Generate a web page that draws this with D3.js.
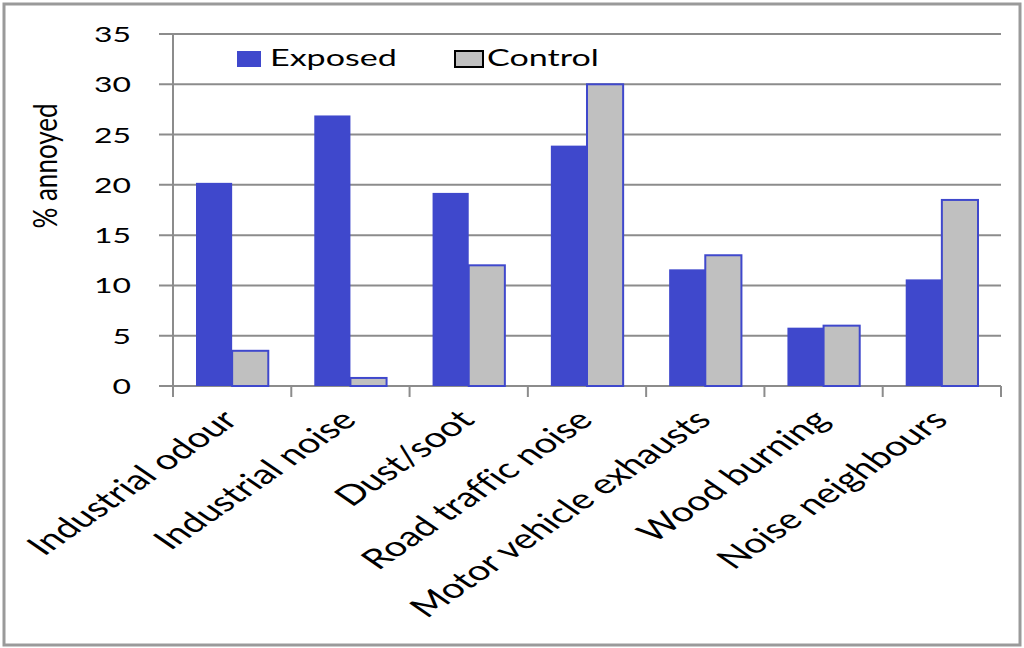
<!DOCTYPE html>
<html><head><meta charset="utf-8">
<script src="https://cdn.jsdelivr.net/npm/d3@7"></script>
<style>html,body{margin:0;padding:0;background:#fff}svg{display:block}text{font-variant-ligatures:none;font-feature-settings:"liga" 0}</style>
</head><body>
<script>
const categories = ["Industrial odour","Industrial noise","Dust/soot","Road traffic noise","Motor vehicle exhausts","Wood burning","Noise neighbours"];
const exposed = [20.2, 26.9, 19.2, 23.9, 11.6, 5.8, 10.6];
const control = [3.5, 0.8, 12.0, 30.0, 13.0, 6.0, 18.5];
const seriesNames = ["Exposed","Control"];
const yTicks = [0,5,10,15,20,25,30,35];

const W = 1024, H = 648;
const SX = 1.45; // horizontal stretch of text
const FONT = "Lato, 'Open Sans', sans-serif";
const BLUE = "#3f48cc", GREY = "#c0c0c0", GRID = "#8c8c8c";

const svg = d3.select("body").append("svg").attr("width", W).attr("height", H);
svg.append("rect").attr("x",4).attr("y",4).attr("width",1016).attr("height",641)
  .attr("fill","#fff").attr("stroke","#9a9a9a").attr("stroke-width",3);

const x0 = d3.scaleBand().domain(categories).range([173, 1001]).padding(0);
const x1 = d3.scaleBand().domain(seriesNames).range([23, x0.bandwidth()-23]).padding(0);
const y = d3.scaleLinear().domain([0,35]).range([386, 34]);

// gridlines
svg.append("g").selectAll("line").data(yTicks).join("line")
  .attr("x1",159).attr("x2",1001).attr("y1",d=>y(d)).attr("y2",d=>y(d))
  .attr("stroke",GRID).attr("stroke-width",2);
// y axis line
svg.append("line").attr("x1",173).attr("x2",173).attr("y1",y(35)).attr("y2",397)
  .attr("stroke",GRID).attr("stroke-width",2);
// x ticks
const xb = categories.map(c=>x0(c)).concat([x0.range()[1]]);
svg.append("g").selectAll("line").data(xb.slice(1)).join("line")
  .attr("x1",d=>d).attr("x2",d=>d).attr("y1",386).attr("y2",397)
  .attr("stroke",GRID).attr("stroke-width",2);

// bars
const rows = categories.map((c,i)=>({c, vals:[{k:"Exposed",v:exposed[i]},{k:"Control",v:control[i]}]}));
const g = svg.append("g").selectAll("g").data(rows).join("g").attr("transform",d=>`translate(${x0(d.c)},0)`);
g.selectAll("rect").data(d=>d.vals).join("rect")
  .attr("x",d=>x1(d.k)).attr("width",x1.bandwidth())
  .attr("y",d=>y(d.v)).attr("height",d=>y(0)-y(d.v))
  .attr("fill",d=>d.k==="Exposed"?BLUE:GREY)
  .attr("stroke",d=>d.k==="Exposed"?"none":BLUE).attr("stroke-width",2);

// y tick labels
svg.append("g").selectAll("text").data(yTicks).join("text")
  .attr("transform",d=>`translate(131,${y(d)}) scale(${SX},1)`)
  .attr("text-anchor","end").attr("dy","0.36em")
  .attr("font-family",FONT).attr("font-size",22).attr("fill","#000").text(d=>d);

// y title
svg.append("text").attr("transform",`translate(57,166) scale(1.25,1) rotate(-90)`)
  .attr("text-anchor","middle").attr("font-family",FONT).attr("font-size",26).text("% annoyed");

// category labels
svg.append("g").selectAll("text").data(categories).join("text")
  .attr("transform",d=>`translate(${x0(d)+x0.bandwidth()/2-12},${408}) scale(${SX},1) rotate(-45)`)
  .attr("text-anchor","end").attr("dy","0.7em")
  .attr("font-family",FONT).attr("font-size",27.5).text(d=>d);

// legend
const leg = svg.append("g");
leg.append("rect").attr("x",237).attr("y",51).attr("width",24).attr("height",16).attr("fill",BLUE);
leg.append("text").attr("transform",`translate(270,66) scale(${SX},1)`).attr("font-family",FONT).attr("font-size",23.5).text(seriesNames[0]);
leg.append("rect").attr("x",455).attr("y",51).attr("width",28).attr("height",16).attr("fill",GREY).attr("stroke","#000").attr("stroke-width",2);
leg.append("text").attr("transform",`translate(487,66) scale(${SX},1)`).attr("font-family",FONT).attr("font-size",23.5).text(seriesNames[1]);
</script>
</body></html>
